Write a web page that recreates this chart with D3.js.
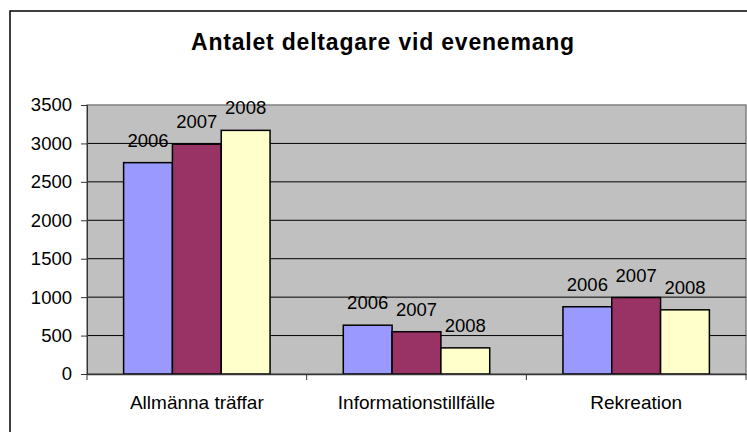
<!DOCTYPE html>
<html>
<head>
<meta charset="utf-8">
<script src="https://cdn.jsdelivr.net/npm/d3@7"></script>
<style>
  body { margin: 0; background: #fff; }
  text { font-family: "Liberation Sans", Arial, sans-serif; }
</style>
</head>
<body>
<script>
// Antalet deltagare vid evenemang - grouped bars

var categories = ["Allmänna träffar", "Informationstillfälle", "Rekreation"];
var years = ["2006", "2007", "2008"];
var values2006 = [2750, 635, 875];
var values2007 = [2990, 550, 995];
var values2008 = [3170, 340, 835];
var yTicks = [0, 500, 1000, 1500, 2000, 2500, 3000, 3500];
var colors = ["#9999ff", "#993366", "#ffffcc"];

var svgWidth = 747;
var svgHeight = 432;
var margin = { top: 105, right: 1, bottom: 58, left: 87 };
var width = svgWidth - margin.left - margin.right;
var height = svgHeight - margin.top - margin.bottom;

var svg = d3.select("body")
  .append("svg")
  .attr("width", svgWidth)
  .attr("height", svgHeight);

// outer chart frame (runs off the right and bottom edge)
svg.append("rect")
  .attr("x", 10).attr("y", 11)
  .attr("width", 760).attr("height", 440)
  .attr("fill", "#fff")
  .attr("stroke", "#000")
  .attr("stroke-width", 1.5);

svg.append("text")
  .attr("x", 383).attr("y", 49.5)
  .attr("text-anchor", "middle")
  .attr("font-size", 23)
  .attr("font-weight", "bold")
  .attr("letter-spacing", 0.8)
  .text("Antalet deltagare vid evenemang");

var chart = svg.append("g")
  .attr("transform", "translate(" + margin.left + "," + margin.top + ")");

var x0 = d3.scaleBand().domain(categories).range([0, width]).paddingInner(0).paddingOuter(0);
var x1 = d3.scaleBand().domain(years).range([0, x0.bandwidth()]).paddingInner(0).paddingOuter(0.75);
var y = d3.scaleLinear().domain([0, 3500]).range([height, 0]);

// plot area background
chart.append("rect")
  .attr("width", width).attr("height", height)
  .attr("fill", "#c0c0c0")
  .attr("stroke", "#808080")
  .attr("stroke-width", 1.5);

// gridlines
chart.selectAll(".grid")
  .data(yTicks.filter(function(d) { return d > 0 && d < 3500; }))
  .enter()
  .append("line")
  .attr("x1", 0).attr("x2", width)
  .attr("y1", function(d) { return y(d); })
  .attr("y2", function(d) { return y(d); })
  .attr("stroke", "#000")
  .attr("stroke-width", 1);

var rows = years.map(function(yr, i) {
  var vals = [values2006, values2007, values2008][i];
  return categories.map(function(c, j) {
    return { cat: c, year: yr, value: vals[j], color: colors[i] };
  });
});
var bars = d3.merge(rows);

chart.selectAll(".bar")
  .data(bars)
  .enter()
  .append("rect")
  .attr("x", function(d) { return x0(d.cat) + x1(d.year); })
  .attr("y", function(d) { return y(d.value); })
  .attr("width", x1.bandwidth())
  .attr("height", function(d) { return height - y(d.value); })
  .attr("fill", function(d) { return d.color; })
  .attr("stroke", "#000")
  .attr("stroke-width", 1.5);

chart.selectAll(".lbl")
  .data(bars)
  .enter()
  .append("text")
  .attr("x", function(d) { return x0(d.cat) + x1(d.year) + x1.bandwidth() / 2; })
  .attr("y", function(d) { return y(d.value) - 16; })
  .attr("text-anchor", "middle")
  .attr("font-size", 18.5)
  .text(function(d) { return d.year; });

// y axis
var leftAxis = d3.axisLeft(y).tickValues(yTicks).tickFormat(d3.format("d")).tickSize(6).tickPadding(9);
var yAxis = chart.append("g").call(leftAxis);
yAxis.select(".domain").attr("stroke", "#333");
yAxis.selectAll("line").attr("stroke", "#333");
yAxis.selectAll("text").attr("font-size", 18.5).attr("font-family", "Liberation Sans, Arial, sans-serif").attr("fill", "#000");

// x axis
var bottomAxis = d3.axisBottom(x0).tickSize(0).tickPadding(22);
var xAxis = chart.append("g").attr("transform", "translate(0," + height + ")").call(bottomAxis);
xAxis.select(".domain").attr("stroke", "#333").attr("stroke-width", 1.5);
xAxis.selectAll("text").attr("font-size", 19).attr("font-family", "Liberation Sans, Arial, sans-serif").attr("fill", "#000");

// category boundary ticks
chart.selectAll(".xtick")
  .data(categories.concat(["end"]))
  .enter()
  .append("line")
  .attr("x1", function(d, i) { return i * x0.step(); })
  .attr("x2", function(d, i) { return i * x0.step(); })
  .attr("y1", height).attr("y2", height + 6)
  .attr("stroke", "#333");
</script>
</body>
</html>
